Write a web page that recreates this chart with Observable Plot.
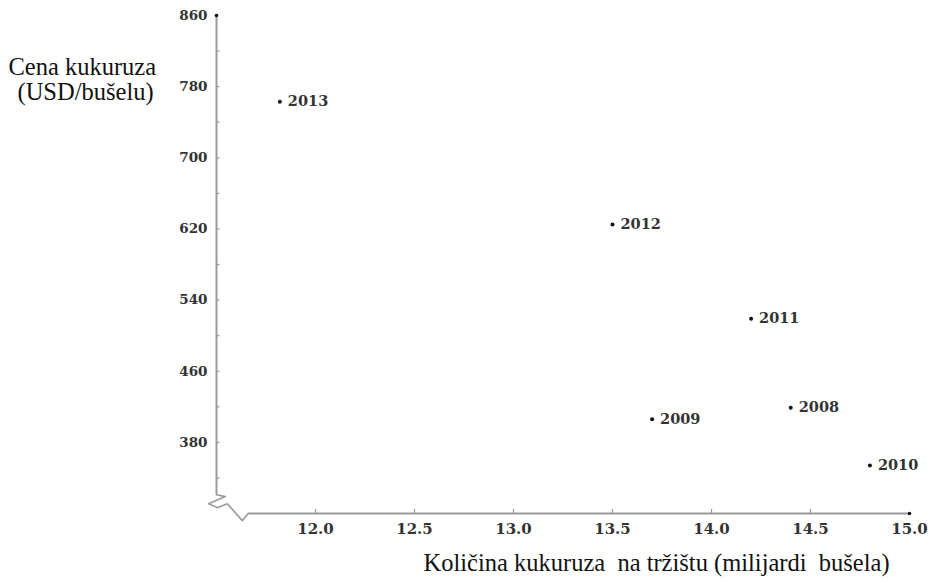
<!DOCTYPE html>
<html>
<head>
<meta charset="utf-8">
<script src="https://cdn.jsdelivr.net/npm/d3@7"></script>
<script src="https://cdn.jsdelivr.net/npm/@observablehq/plot@0.6"></script>
<style>
  html, body { margin: 0; padding: 0; background: #fff; }
</style>
</head>
<body>
<div id="chart"></div>
<script>
// Data
const years = ["2008", "2009", "2010", "2011", "2012", "2013"];
const quantity = [14.4, 13.7, 14.8, 14.2, 13.5, 11.82];   // billions of bushels
const price = [419, 406, 354, 519, 625, 763];              // USD cents / bushel

const yTicks = [380, 460, 540, 620, 700, 780, 860];
const yMinorTicks = [340, 420, 500, 580, 660, 740, 820];
const xTicks = [12.0, 12.5, 13.0, 13.5, 14.0, 14.5, 15.0];

// axis-break zigzag (in data units)
const breakX = [11.5, 11.545, 11.46, 11.505, 11.555, 11.63, 11.66];
const breakY = [321, 319, 311, 306.6, 311, 292, 300];

const xDomain = [11.5, 15];
const yDomain = [300, 860];

const data = years.map((year, i) => ({year, q: quantity[i], p: price[i]}));
const breakPath = breakX.map((x, i) => ({x, y: breakY[i]}));

const axisColor = "#9a9a9a";
const serif = "'Liberation Serif', 'Times New Roman', serif";
const tickFont = "'DejaVu Serif', serif";

const chart = Plot.plot({
  width: 931,
  height: 582,
  marginLeft: 216,
  marginRight: 22,
  marginTop: 15,
  marginBottom: 69,
  style: {background: "white", color: "#222"},
  x: {domain: xDomain},
  y: {domain: yDomain},
  marks: [
    // axis lines
    Plot.ruleX([xDomain[0]], {y1: breakY[0], y2: yDomain[1], stroke: axisColor, strokeWidth: 2}),
    Plot.ruleY([yDomain[0]], {x1: breakX[breakX.length - 1], x2: xDomain[1], stroke: axisColor, strokeWidth: 2}),
    Plot.line(breakPath, {x: "x", y: "y", stroke: axisColor, strokeWidth: 1.6, clip: false}),
    // end dots of axes
    Plot.dot([{x: xDomain[0], y: yDomain[1]}, {x: xDomain[1], y: yDomain[0]}], {x: "x", y: "y", r: 1.8, fill: "#111"}),
    // tick marks (pointing inward)
    Plot.ruleY(yTicks.slice(0, -1).concat(yMinorTicks), {x1: xDomain[0], x2: xDomain[0] + 0.018, stroke: axisColor, strokeWidth: 1.2}),
    Plot.ruleX(xTicks.slice(0, -1), {y1: yDomain[0], y2: yDomain[0] + 4.5, stroke: axisColor, strokeWidth: 1.2}),
    // tick labels
    Plot.axisY(yTicks, {tickSize: 0, tickPadding: 9, label: null, fontSize: 13.5, fontWeight: "bold", fontFamily: tickFont, fill: "#333"}),
    Plot.axisX(xTicks, {tickSize: 0, tickPadding: 10, label: null, tickFormat: d3.format(".1f"), fontSize: 15, fontWeight: "bold", fontFamily: tickFont, fill: "#333"}),
    // data
    Plot.dot(data, {x: "q", y: "p", r: 2, fill: "#111"}),
    Plot.text(data, {x: "q", y: "p", text: "year", dx: 8, textAnchor: "start", fontSize: 14.5, fontWeight: "bold", fontFamily: tickFont, fill: "#333"}),
    // axis titles
    Plot.text(["Cena kukuruza"], {frameAnchor: "top-left", dx: -208, dy: 42, textAnchor: "start", fontSize: 24.5, fontFamily: serif, fill: "#111"}),
    Plot.text(["(USD/bušelu)"], {frameAnchor: "top-left", dx: -199, dy: 67, textAnchor: "start", fontSize: 24.5, fontFamily: serif, fill: "#111"}),
    Plot.text(["Količina kukuruza\u00a0 na tržištu (milijardi\u00a0 bušela)"], {frameAnchor: "bottom-left", dx: 207, dy: 57, textAnchor: "start", fontSize: 24.5, fontFamily: serif, fill: "#111"})
  ]
});

document.getElementById("chart").appendChild(chart);
</script>
</body>
</html>
